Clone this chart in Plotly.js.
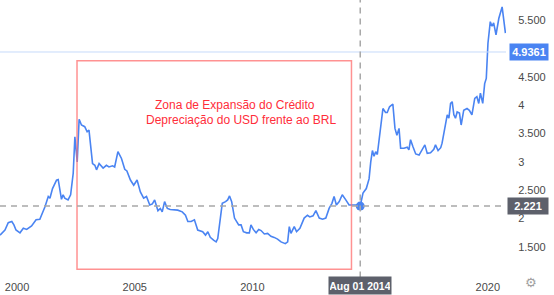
<!DOCTYPE html>
<html><head><meta charset="utf-8">
<script src="https://cdn.plot.ly/plotly-3.0.1.min.js"></script>
<style>html,body{margin:0;padding:0;background:#fff}#c{width:554px;height:295px}</style>
</head><body><div id="c"></div>
<script>
const dates = [
"1999-04-12","1999-06-28","1999-08-18","1999-10-12","1999-11-14","1999-12-16",
"2000-02-16","2000-04-08","2000-05-30","2000-08-14","2000-10-23","2000-12-20",
"2001-03-10","2001-04-30","2001-05-26","2001-07-05","2001-09-05","2001-10-01","2001-11-21","2001-12-16",
"2002-01-11","2002-03-03","2002-04-12","2002-05-22","2002-06-17","2002-07-23","2002-08-22","2002-09-27","2002-11-17","2002-12-24",
"2003-01-22","2003-03-18","2003-04-23","2003-05-19","2003-06-28","2003-08-29","2003-10-19","2003-11-28",
"2004-01-22","2004-02-24","2004-04-15","2004-06-09","2004-07-30","2004-09-01","2004-10-26","2004-12-16",
"2005-02-06","2005-03-29","2005-05-19","2005-07-02","2005-08-22","2005-10-01","2005-11-06","2005-12-27",
"2006-02-02","2006-03-03","2006-04-09","2006-05-22","2006-07-05","2006-08-25","2006-10-30",
"2007-01-08","2007-02-27","2007-04-05","2007-05-26","2007-07-16","2007-09-05","2007-11-21",
"2008-01-04","2008-02-09","2008-03-18","2008-05-08","2008-06-17","2008-07-12","2008-08-18","2008-09-20","2008-11-10","2008-12-13",
"2009-01-11","2009-02-13","2009-03-29","2009-04-30","2009-06-02","2009-07-09","2009-08-14","2009-10-04","2009-11-14","2009-12-09",
"2010-01-15","2010-02-27","2010-04-09","2010-05-15","2010-07-05","2010-08-25","2010-10-15","2010-12-05",
"2011-01-26","2011-03-21","2011-05-26","2011-07-02","2011-07-27","2011-08-22","2011-10-12","2011-11-17",
"2012-01-08","2012-03-14","2012-05-04","2012-06-09","2012-07-30","2012-09-12","2012-11-03","2012-12-24",
"2013-02-13","2013-04-05","2013-05-19","2013-06-21","2013-07-27","2013-09-09","2013-10-26","2013-12-20",
"2014-02-09","2014-04-27","2014-07-01","2014-08-01","2014-09-13","2014-11-03","2014-12-16",
"2015-01-11","2015-02-06","2015-03-03","2015-03-29","2015-04-23","2015-05-30","2015-07-19","2015-08-29","2015-09-24","2015-10-30","2015-12-20",
"2016-01-22","2016-02-21","2016-03-25","2016-04-19","2016-06-09","2016-07-30","2016-08-25","2016-09-20","2016-10-26","2016-12-09",
"2017-01-30","2017-03-21","2017-04-30","2017-06-06","2017-07-27","2017-09-16","2017-10-12","2017-11-21",
"2018-01-01","2018-01-22","2018-03-07","2018-04-12","2018-05-08","2018-06-03","2018-06-28","2018-07-24","2018-08-18","2018-09-13","2018-10-19","2018-11-14","2018-12-24",
"2019-02-13","2019-03-21","2019-04-30","2019-06-13","2019-07-16","2019-08-14","2019-09-09","2019-10-15","2019-11-14","2019-12-09",
"2020-01-04","2020-02-09","2020-03-07","2020-04-01","2020-05-08","2020-06-21","2020-08-11","2020-10-01"
];
const usdbrl = [
1.71,1.80,1.93,1.95,1.89,1.80,
1.75,1.83,1.81,1.87,1.98,1.99,
2.21,2.39,2.36,2.53,2.68,2.69,2.34,2.42,
2.36,2.33,2.42,2.80,3.44,3.00,3.75,3.65,3.62,3.53,
3.56,2.97,2.94,2.86,2.97,2.89,2.94,2.91,
2.93,2.91,3.18,3.06,2.87,2.84,2.68,2.59,
2.68,2.47,2.36,2.39,2.24,2.26,2.33,2.14,
2.18,2.12,2.30,2.18,2.16,2.15,2.15,
2.12,2.06,1.95,1.95,1.98,1.80,1.77,
1.71,1.77,1.67,1.62,1.59,1.65,2.03,2.27,2.30,2.33,
2.40,2.30,2.01,1.95,1.89,1.89,1.77,1.75,1.75,1.89,
1.81,1.75,1.81,1.79,1.73,1.74,1.69,1.67,
1.64,1.59,1.56,1.59,1.86,1.74,1.86,1.77,
1.83,2.01,2.06,2.03,2.05,2.14,2.01,1.99,
2.01,2.18,2.27,2.39,2.24,2.30,2.42,2.33,
2.24,2.24,2.24,2.221,2.45,2.53,2.70,
3.00,3.20,3.10,3.18,3.13,3.45,3.94,3.87,3.87,3.97,4.02,
3.59,3.47,3.59,3.24,3.24,3.26,3.21,3.39,3.27,3.14,
3.12,3.21,3.30,3.15,3.16,3.22,3.30,3.20,
3.25,3.33,3.62,3.83,3.77,4.03,4.06,3.83,3.77,3.88,3.86,3.65,3.91,
3.94,3.91,3.83,4.12,4.15,4.03,4.21,4.03,4.38,4.47,
5.09,5.47,5.39,5.45,5.24,5.53,5.73,5.27
];
const xTickVals = ["2000-01-01","2005-01-01","2010-01-01","2020-01-01"];
const xTickText = ["2000","2005","2010","2020"];
const yTickVals = [1.5,2,2.5,3,3.5,4,4.5,5.5];
const yTickText = ["1.500","2","2.500","3","3.500","4","4.500","5.500"];
const crossDate = "2014-08-01";
const crossLabel = "Aug 01 2014";
const crossValue = 2.221;
const lastPrice = 4.9361;
const zoneDates = ["2002-07-20","2014-03-18"];
const zoneValues = [1.11, 4.78];
const zoneText = ["Zona de Expansão do Crédito","Depreciação do USD frente ao BRL"];

const blue = "#4a84f2";
const traces = [
  {x: dates, y: usdbrl, type: "scatter", mode: "lines",
   line: {color: blue, width: 1.6}, hoverinfo: "skip"},
  {x: [crossDate], y: [crossValue], type: "scatter", mode: "markers",
   marker: {color: blue, size: 9}, hoverinfo: "skip"}
];
const redFont = {family: "Liberation Sans, Arial, sans-serif", size: 12, color: "#ff2d3a"};
const layout = {
  width: 554, height: 295,
  margin: {l: 0, r: 48, t: 0, b: 23},
  paper_bgcolor: "#fff", plot_bgcolor: "#fff",
  showlegend: false,
  font: {family: "Liberation Sans, Arial, sans-serif", size: 11, color: "#4a4a4a"},
  xaxis: {type: "date", range: ["1999-04-12", "2020-10-10"], showgrid: false, zeroline: false,
    showline: false, tickvals: xTickVals, ticktext: xTickText,
    ticks: "outside", ticklen: 5, tickcolor: "rgba(0,0,0,0)", tickfont: {size: 11, color: "#4a4a4a"}},
  yaxis: {side: "right", range: [1.06, 5.852], showgrid: false, zeroline: false, showline: false,
    tickvals: yTickVals, ticktext: yTickText,
    ticks: "outside", ticklen: 9, tickcolor: "rgba(0,0,0,0)", tickfont: {size: 11, color: "#4a4a4a"}},
  shapes: [
    {type: "rect", xref: "x", yref: "y", x0: zoneDates[0], x1: zoneDates[1], y0: zoneValues[0], y1: zoneValues[1],
     line: {color: "rgba(255,110,110,0.75)", width: 1.5}, fillcolor: "rgba(0,0,0,0)"},
    {type: "line", xref: "paper", yref: "y", x0: 0, x1: 1, y0: lastPrice, y1: lastPrice,
     line: {color: "#c6dafa", width: 1}},
    {type: "line", xref: "paper", yref: "y", x0: 0, x1: 1, y0: crossValue, y1: crossValue,
     line: {color: "#a8a8a8", width: 1.5, dash: "6px,5px"}},
    {type: "line", xref: "x", yref: "paper", x0: crossDate, x1: crossDate, y0: -0.02, y1: 1,
     line: {color: "#a8a8a8", width: 1.5, dash: "6px,5px"}}
  ],
  annotations: [
    {xref: "paper", yref: "paper", x: 0.4654, y: 0.614, text: zoneText[0], showarrow: false,
     font: redFont, xanchor: "center", yanchor: "middle"},
    {xref: "paper", yref: "paper", x: 0.476, y: 0.559, text: zoneText[1], showarrow: false,
     font: redFont, xanchor: "center", yanchor: "middle"},
    {xref: "paper", yref: "y", x: 1.045, y: lastPrice, text: "<b>" + lastPrice.toFixed(4) + "</b>", showarrow: false,
     bgcolor: "#4a84f2", width: 36, height: 14, font: {color: "#fff", size: 11}, xanchor: "center", yanchor: "middle"},
    {xref: "paper", yref: "y", x: 1.043, y: crossValue, text: "<b>" + crossValue.toFixed(3) + "</b>", showarrow: false,
     bgcolor: "#5d606b", width: 38, height: 14, font: {color: "#fff", size: 11}, xanchor: "center", yanchor: "middle"},
    {xref: "x", yref: "paper", x: crossDate, y: -0.048, text: "<b>" + crossLabel + "</b>", showarrow: false,
     bgcolor: "#5d606b", width: 60, height: 15, font: {color: "#fff", size: 10.5}, xanchor: "center", yanchor: "middle"},
    {xref: "paper", yref: "paper", x: 1.049, y: -0.04, text: "⚙", showarrow: false,
     font: {family: "DejaVu Sans", size: 13, color: "#a0a0a0"}, xanchor: "center", yanchor: "middle"}
  ]
};
Plotly.newPlot("c", traces, layout, {staticPlot: true, displayModeBar: false});
</script></body></html>
